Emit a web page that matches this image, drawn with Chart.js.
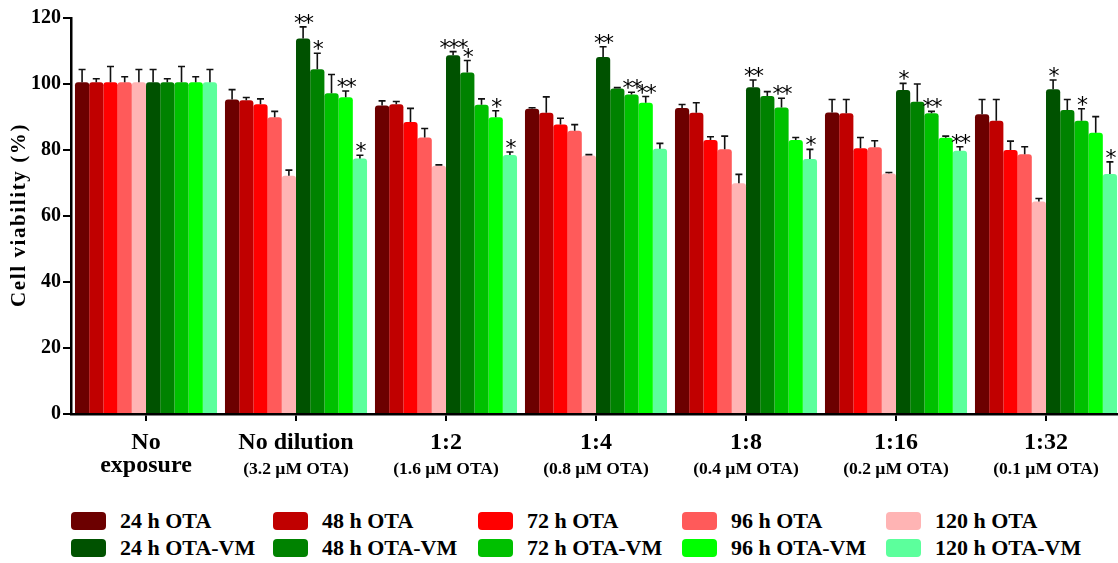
<!DOCTYPE html>
<html>
<head>
<meta charset="utf-8">
<script src="https://cdn.jsdelivr.net/npm/chart.js@4"></script>
<style>
  html, body { margin: 0; padding: 0; background: #fff; overflow: hidden; }
  #wrap { position: relative; width: 1118px; height: 563px; overflow: hidden; }
  #box { position: absolute; left: 0; top: 0; width: 1121px; height: 490px; }
  .leg { position: absolute; display: flex; align-items: center; font-family: "Liberation Serif", serif; font-weight: bold; font-size: 22px; color: #000; white-space: nowrap; }
  .leg span.sw { width: 35px; height: 18px; border-radius: 4px; margin-right: 14px; }
</style>
</head>
<body>
<div id="wrap">
  <div id="box"><canvas id="cellChart"></canvas></div>
  <div id="legend"></div>
</div>
<script>
// groups on the x axis
const groupNames = [['No', 'exposure'], ['No dilution'], ['1:2'], ['1:4'], ['1:8'], ['1:16'], ['1:32']];
const groupSubs = ['', '(3.2 \u00b5M OTA)', '(1.6 \u00b5M OTA)', '(0.8 \u00b5M OTA)', '(0.4 \u00b5M OTA)', '(0.2 \u00b5M OTA)', '(0.1 \u00b5M OTA)'];
const yTicks = [0, 20, 40, 60, 80, 100, 120];

// cell viability (%)
const ota24  = [100.5, 95.3, 93.5, 92.5, 92.7, 91.4, 90.8];
const ota48  = [100.5, 95.1, 93.9, 91.3, 91.3, 91.1, 88.9];
const ota72  = [100.5, 93.9, 88.5, 87.7, 83.0, 80.5, 80.0];
const ota96  = [100.5, 89.9, 83.8, 85.8, 80.2, 80.8, 78.7];
const ota120 = [100.5, 72.2, 75.2, 78.3, 69.9, 72.9, 64.4];
const vm24   = [100.5, 113.8, 108.7, 108.2, 99.0, 98.2, 98.4];
const vm48   = [100.5, 104.5, 103.5, 98.6, 96.4, 94.6, 92.1];
const vm72   = [100.5, 97.2, 93.7, 96.8, 92.9, 91.1, 88.9];
const vm96   = [100.5, 96.0, 89.9, 94.3, 83.0, 83.7, 85.2];
const vm120  = [100.5, 77.4, 78.5, 80.4, 77.3, 79.8, 72.7];

// upper error bars
const ota24Err  = [3.9, 3.0, 1.4, 0.3, 1.1, 3.9, 4.5];
const ota48Err  = [1.1, 0.8, 0.8, 4.8, 3.0, 4.2, 6.4];
const ota72Err  = [4.8, 1.6, 4.1, 1.9, 1.0, 3.3, 2.7];
const ota96Err  = [1.7, 1.8, 2.7, 1.9, 4.0, 2.0, 2.3];
const ota120Err = [3.9, 1.7, 0.3, 0.3, 2.7, 0.3, 0.9];
const vm24Err   = [3.9, 3.5, 1.1, 3.1, 2.2, 2.0, 2.8];
const vm48Err   = [1.1, 4.8, 3.6, 0.3, 1.3, 5.4, 3.2];
const vm72Err   = [4.8, 5.7, 1.8, 0.7, 2.8, 0.6, 3.6];
const vm96Err   = [1.7, 1.9, 2.0, 1.9, 0.8, 0.5, 4.9];
const vm120Err  = [3.9, 1.0, 0.9, 1.6, 2.9, 1.2, 3.7];

// significance marks
const noStars    = ['', '', '', '', '', '', ''];
const vm24Stars  = ['', '**', '***', '**', '**', '*', '*'];
const vm48Stars  = ['', '*', '*', '', '', '', ''];
const vm72Stars  = ['', '', '', '**', '**', '**', '*'];
const vm96Stars  = ['', '**', '*', '**', '', '', ''];
const vm120Stars = ['', '*', '*', '', '*', '**', '*'];

const seriesLabels = ['24 h OTA', '48 h OTA', '72 h OTA', '96 h OTA', '120 h OTA',
                      '24 h OTA-VM', '48 h OTA-VM', '72 h OTA-VM', '96 h OTA-VM', '120 h OTA-VM'];
const seriesColors = ['#6c0000', '#c00000', '#ff0000', '#ff5a5a', '#ffb4b4',
                      '#005200', '#008200', '#00c000', '#00ff00', '#5cff9c'];
const seriesData = [ota24, ota48, ota72, ota96, ota120, vm24, vm48, vm72, vm96, vm120];
const seriesErr = [ota24Err, ota48Err, ota72Err, ota96Err, ota120Err, vm24Err, vm48Err, vm72Err, vm96Err, vm120Err];
const seriesStars = [noStars, noStars, noStars, noStars, noStars, vm24Stars, vm48Stars, vm72Stars, vm96Stars, vm120Stars];

const serif = '"Liberation Serif", "Times New Roman", serif';

// error bars + asterisks
const errorBarPlugin = {
    id: 'errorBars',
    afterDatasetsDraw(chart) {
        const ctx = chart.ctx;
        const y = chart.scales.y;
        ctx.save();
        chart.data.datasets.forEach((ds, i) => {
            const meta = chart.getDatasetMeta(i);
            meta.data.forEach((bar, j) => {
                const top = y.getPixelForValue(ds.data[j] + ds.errors[j]);
                ctx.strokeStyle = '#111';
                ctx.lineWidth = 1.6;
                ctx.beginPath();
                ctx.moveTo(bar.x, bar.y);
                ctx.lineTo(bar.x, top);
                ctx.moveTo(bar.x - 3.5, top);
                ctx.lineTo(bar.x + 3.5, top);
                ctx.stroke();
                const s = ds.stars[j];
                if (s) {
                    ctx.font = '22px "DejaVu Sans", sans-serif';
                    ctx.fillStyle = '#000';
                    ctx.textAlign = 'center';
                    ctx.textBaseline = 'alphabetic';
                    ctx.letterSpacing = '-2px';
                    const m = ctx.measureText(s);
                    ctx.fillText(s, bar.x, top - 3 - m.actualBoundingBoxDescent);
                }
            });
        });
        ctx.restore();
    }
};

// two-font category labels and the y title
const labelPlugin = {
    id: 'groupLabels',
    afterDraw(chart) {
        const ctx = chart.ctx;
        const x = chart.scales.x;
        ctx.save();
        ctx.fillStyle = '#000';
        ctx.textAlign = 'center';
        ctx.textBaseline = 'middle';
        groupNames.forEach((lines, i) => {
            const cx = x.getPixelForValue(i);
            ctx.font = 'bold 24px ' + serif;
            lines.forEach((ln, k) => ctx.fillText(ln, cx, 443 + k * 23));
            if (groupSubs[i]) {
                ctx.font = 'bold 17.5px ' + serif;
                ctx.fillText(groupSubs[i], cx, 469);
            }
        });
        // y title
        ctx.translate(20, 215);
        ctx.rotate(-Math.PI / 2);
        ctx.font = 'bold 21px ' + serif;
        ctx.letterSpacing = '1.6px';
        ctx.fillText('Cell viability (%)', 0, 0);
        ctx.restore();
    }
};

function renderLegend() {
    const colsX = [71, 273, 478, 682, 886];
    const rowsY = [512, 539];
    const holder = document.getElementById('legend');
    seriesLabels.forEach((lab, i) => {
        const item = document.createElement('div');
        item.className = 'leg';
        item.style.left = colsX[i % 5] + 'px';
        item.style.top = rowsY[Math.floor(i / 5)] + 'px';
        item.style.height = '18px';
        const sw = document.createElement('span');
        sw.className = 'sw';
        sw.style.background = seriesColors[i];
        item.appendChild(sw);
        item.appendChild(document.createTextNode(lab));
        holder.appendChild(item);
    });
}

function initChart() {
    const ctx = document.getElementById('cellChart').getContext('2d');
    return new Chart(ctx, {
        type: 'bar',
        data: {
            labels: groupNames.map(g => g.join(' ')),
            datasets: seriesData.map((d, i) => ({
                label: seriesLabels[i],
                data: d,
                errors: seriesErr[i],
                stars: seriesStars[i],
                backgroundColor: seriesColors[i],
                borderWidth: 0,
                borderRadius: { topLeft: 3, topRight: 3, bottomLeft: 0, bottomRight: 0 },
                borderSkipped: 'bottom',
                categoryPercentage: 0.947,
                barPercentage: 1.0
            }))
        },
        options: {
            responsive: true,
            maintainAspectRatio: false,
            animation: false,
            layout: { padding: { top: 18, left: 0, right: 0, bottom: 0 } },
            plugins: {
                legend: { display: false },
                tooltip: { enabled: false }
            },
            scales: {
                x: {
                    grid: { drawOnChartArea: false, offset: false, color: '#000', lineWidth: 2, tickLength: 7 },
                    border: { color: '#000', width: 2.5 },
                    ticks: { display: false },
                    afterFit: s => { s.height = 76; }
                },
                y: {
                    min: 0,
                    max: 120,
                    afterBuildTicks: s => { s.ticks = yTicks.map(v => ({ value: v })); },
                    grid: { drawOnChartArea: false, color: '#000', lineWidth: 2, tickLength: 8 },
                    border: { color: '#000', width: 2.5 },
                    ticks: {
                        color: '#000',
                        padding: 2,
                        font: { family: serif, weight: 'bold', size: 20 }
                    },
                    afterFit: s => { s.width = 71; }
                }
            }
        },
        plugins: [errorBarPlugin, labelPlugin]
    });
}

renderLegend();
const chart = initChart();
</script>
</body>
</html>
